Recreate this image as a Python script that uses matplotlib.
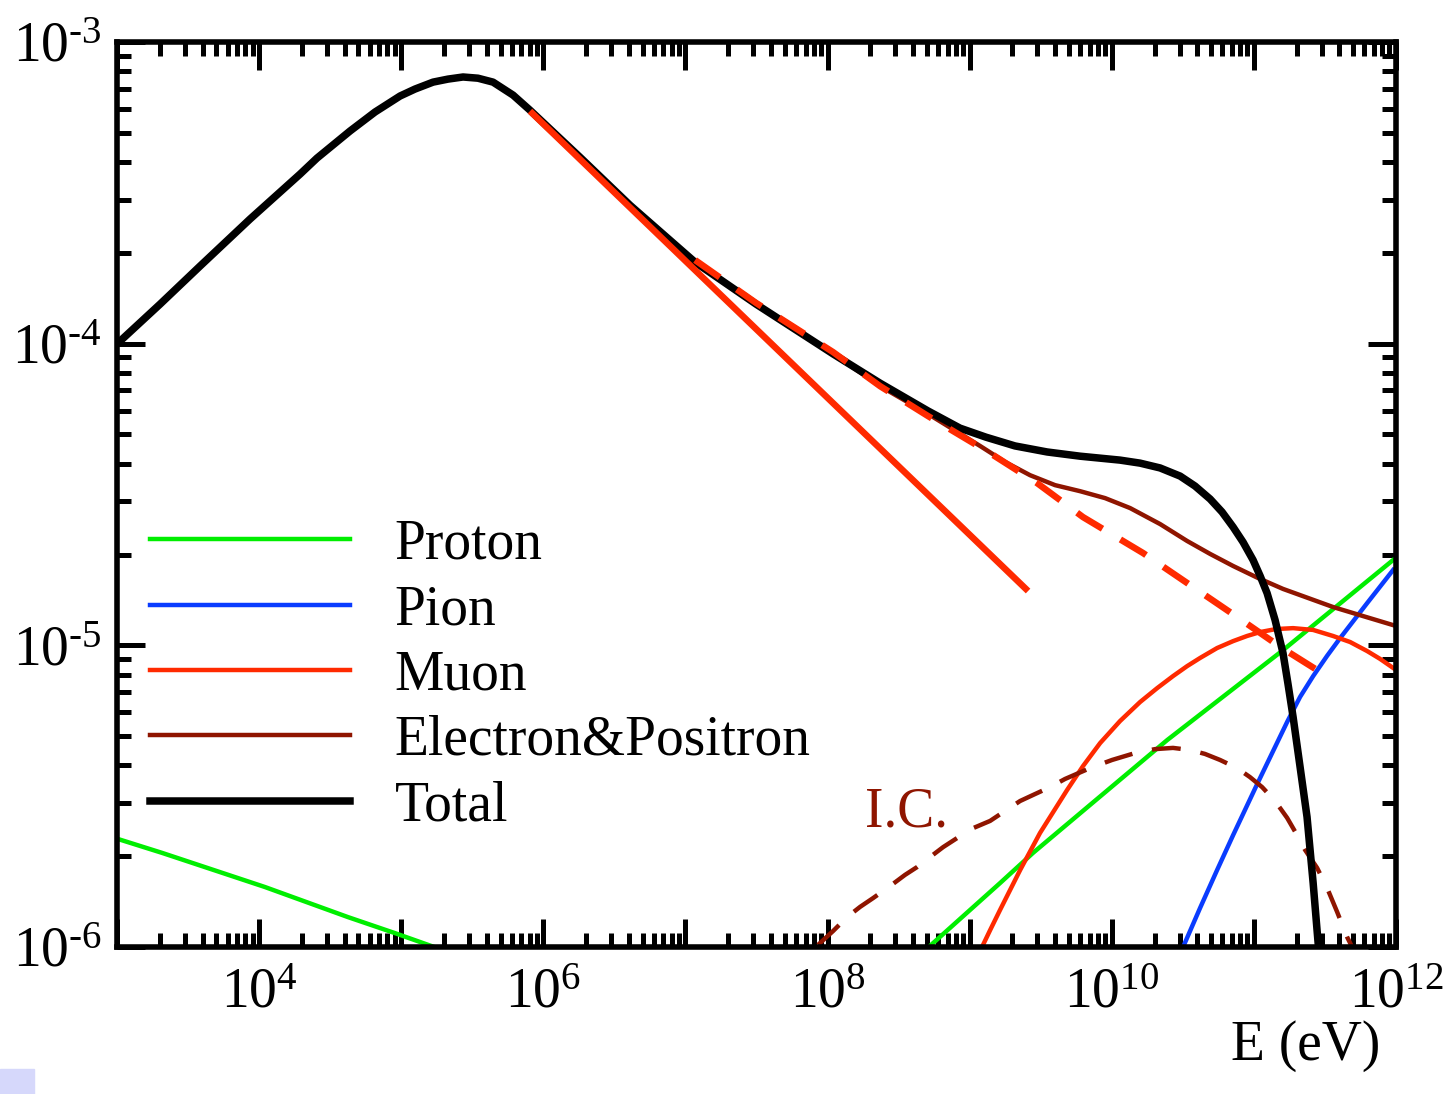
import matplotlib

matplotlib.use("Agg")
import matplotlib.pyplot as plt
import numpy as np
from matplotlib.patches import Rectangle
from matplotlib.ticker import FuncFormatter, LogLocator, NullFormatter

# values, as log10(E/eV) and log10(flux)
total_logE = [3.0, 3.303, 3.584, 3.936, 4.288, 4.407, 4.640, 4.816, 4.992, 5.097,
              5.224, 5.329, 5.435, 5.540, 5.646, 5.787, 5.906, 6.258, 6.610, 7.068,
              7.497, 8.039, 8.370, 8.707, 8.932, 9.115, 9.319, 9.545, 9.777, 10.058,
              10.199, 10.340, 10.481, 10.586, 10.692, 10.776, 10.854, 10.924, 10.994, 11.044,
              11.093, 11.149, 11.205, 11.240, 11.276, 11.325, 11.374, 11.417, 11.452, 11.466]
total_logF = [-4.001, -3.869, -3.743, -3.587, -3.438, -3.385, -3.295, -3.232, -3.179, -3.156,
              -3.133, -3.123, -3.116, -3.120, -3.133, -3.176, -3.226, -3.382, -3.541, -3.730,
              -3.869, -4.034, -4.131, -4.223, -4.280, -4.310, -4.339, -4.359, -4.373, -4.386,
              -4.396, -4.412, -4.439, -4.472, -4.515, -4.558, -4.608, -4.658, -4.717, -4.770,
              -4.827, -4.916, -5.026, -5.128, -5.238, -5.403, -5.569, -5.788, -5.987, -6.043]

elec_logE = [3.0, 3.303, 3.584, 3.936, 4.288, 4.407, 4.640, 4.816, 4.992, 5.097,
             5.224, 5.329, 5.435, 5.540, 5.646, 5.787, 5.906, 6.258, 6.610, 7.068,
             7.497, 8.039, 8.370, 8.707, 9.073, 9.249, 9.425, 9.601, 9.777, 9.953,
             10.129, 10.340, 10.530, 10.692, 10.854, 11.030, 11.205, 11.557, 11.768, 11.980]
elec_logF = [-4.001, -3.869, -3.743, -3.587, -3.438, -3.385, -3.295, -3.232, -3.179, -3.156,
             -3.133, -3.123, -3.116, -3.120, -3.133, -3.176, -3.226, -3.382, -3.541, -3.730,
             -3.869, -4.034, -4.141, -4.233, -4.339, -4.392, -4.436, -4.469, -4.489, -4.512,
             -4.545, -4.598, -4.654, -4.697, -4.737, -4.777, -4.813, -4.873, -4.903, -4.933]

ic_logE = [7.933, 8.039, 8.137, 8.229, 8.320, 8.440, 8.545, 8.630, 8.721, 8.813,
           8.911, 9.024, 9.144, 9.249, 9.355, 9.460, 9.566, 9.671, 9.847, 10.002,
           10.164, 10.305, 10.431, 10.551, 10.656, 10.762, 10.882, 10.973, 11.058, 11.149,
           11.234, 11.304, 11.360, 11.445, 11.515, 11.586, 11.656, 11.691]
ic_logF = [-5.993, -5.947, -5.901, -5.867, -5.838, -5.798, -5.761, -5.735, -5.702, -5.669,
           -5.639, -5.606, -5.582, -5.549, -5.516, -5.493, -5.470, -5.443, -5.407, -5.380,
           -5.357, -5.344, -5.340, -5.347, -5.360, -5.380, -5.407, -5.437, -5.470, -5.516,
           -5.572, -5.629, -5.678, -5.738, -5.804, -5.884, -5.967, -6.000]

muon_line_logE = [5.906, 9.411]
muon_line_logF = [-3.229, -4.820]

muon_dash_logE = [7.068, 7.497, 8.039, 8.370, 8.707, 9.144, 9.474, 9.798, 10.220, 10.551,
                  10.882, 11.198, 11.445]
muon_dash_logF = [-3.723, -3.865, -4.028, -4.141, -4.240, -4.363, -4.462, -4.575, -4.694, -4.800,
                  -4.906, -5.009, -5.082]

muon_logE = [9.087, 9.144, 9.214, 9.355, 9.495, 9.685, 9.798, 9.918, 10.058, 10.199,
             10.319, 10.431, 10.530, 10.621, 10.741, 10.854, 10.952, 11.044, 11.156, 11.276,
             11.417, 11.557, 11.677, 11.797, 11.888, 11.980]
muon_logF = [-6.000, -5.944, -5.877, -5.745, -5.622, -5.480, -5.400, -5.324, -5.251, -5.188,
             -5.142, -5.102, -5.069, -5.042, -5.009, -4.986, -4.969, -4.956, -4.946, -4.943,
             -4.949, -4.969, -4.989, -5.019, -5.045, -5.075]

proton_lo_logE = [3.0, 3.317, 4.04, 4.626, 4.956, 5.25]
proton_lo_logF = [-5.641, -5.688, -5.801, -5.901, -5.954, -6.003]
proton_hi_logE = [8.70, 9.214, 9.446, 10.39, 11.205, 11.98]
proton_hi_logF = [-6.005, -5.788, -5.688, -5.314, -5.016, -4.717]

pion_logE = [10.502, 10.621, 10.741, 10.854, 11.023, 11.234, 11.325, 11.417, 11.515, 11.607,
             11.797, 11.980]
pion_logF = [-6.000, -5.871, -5.745, -5.629, -5.460, -5.254, -5.171, -5.102, -5.035, -4.976,
             -4.860, -4.750]

GREEN = "#00ee00"
BLUE = "#0a3cff"
RED = "#ff2a00"
DARKRED = "#8f1500"


def p(a):
    return np.power(10.0, a)


plt.rcParams["font.family"] = "Liberation Serif"
plt.rcParams["mathtext.fontset"] = "custom"
plt.rcParams["mathtext.rm"] = "Liberation Serif"

fig = plt.figure(figsize=(14.49, 10.94), dpi=100)
ax = fig.add_axes([117 / 1449, 1 - 947 / 1094, 1279 / 1449, 905 / 1094])

thin = 3.2
ax.plot(p(proton_lo_logE), p(proton_lo_logF), color=GREEN, lw=thin, label="Proton")
ax.plot(p(proton_hi_logE), p(proton_hi_logF), color=GREEN, lw=thin)
ax.plot(p(pion_logE), p(pion_logF), color=BLUE, lw=thin, label="Pion")
ax.plot(p(muon_logE), p(muon_logF), color=RED, lw=thin, label="Muon")
ax.plot(p(elec_logE), p(elec_logF), color=DARKRED, lw=thin, label="Electron&Positron")
ax.plot(p(ic_logE), p(ic_logF), color=DARKRED, lw=thin, dashes=(6.5, 4.5))
ax.plot(p(total_logE), p(total_logF), color="black", lw=5.4, label="Total")
ax.plot(p(muon_line_logE), p(muon_line_logF), color=RED, lw=4.7, solid_capstyle="butt")
ax.plot(p(muon_dash_logE), p(muon_dash_logF), color=RED, lw=4.7, dashes=(4.6, 3.2))

ax.set_xscale("log")
ax.set_yscale("log")
ax.set_xlim(1e3, 1e12)
ax.set_ylim(1e-6, 1e-3)

for axis in (ax.xaxis, ax.yaxis):
    axis.set_major_locator(LogLocator(base=10, numticks=20))
    axis.set_minor_locator(LogLocator(base=10, subs=np.arange(2, 10), numticks=20))
    axis.set_minor_formatter(NullFormatter())


def xfmt(v, pos):
    e = int(round(np.log10(v)))
    return rf"$\mathdefault{{10^{{{e}}}}}$" if e % 2 == 0 else ""


def yfmt(v, pos):
    e = int(round(np.log10(v)))
    # hyphen instead of the math minus, as in the original
    return rf"$\mathdefault{{10^{{\text{{-}}{-e}}}}}$"


ax.xaxis.set_major_formatter(FuncFormatter(xfmt))
ax.yaxis.set_major_formatter(FuncFormatter(yfmt))

ax.tick_params(which="both", direction="in", top=True, right=True, width=3.6,
               labelsize=40)
ax.tick_params(which="major", length=20)
ax.tick_params(which="minor", length=10)
ax.tick_params(axis="x", which="major", pad=15)
ax.tick_params(axis="y", which="major", pad=11)
for s in ax.spines.values():
    s.set_linewidth(4)

ax.legend(loc="upper left", bbox_to_anchor=(0.0258, 0.473), frameon=False,
          borderpad=0, borderaxespad=0, handlelength=3.6, handletextpad=0.8,
          labelspacing=0.24, fontsize=40)

ax.text(0.585, 0.1326, "I.C.", color=DARKRED, fontsize=40, transform=ax.transAxes,
        ha="left", va="baseline")
fig.text(1380 / 1449, 1 - 1060 / 1094, "E (eV)", fontsize=40, ha="right", va="baseline")

fig.patches.append(Rectangle((0, 0), 34 / 1449, 25 / 1094, transform=fig.transFigure,
                             color="#d6d8fb", zorder=0))

fig.savefig("out.png", dpi=100)
